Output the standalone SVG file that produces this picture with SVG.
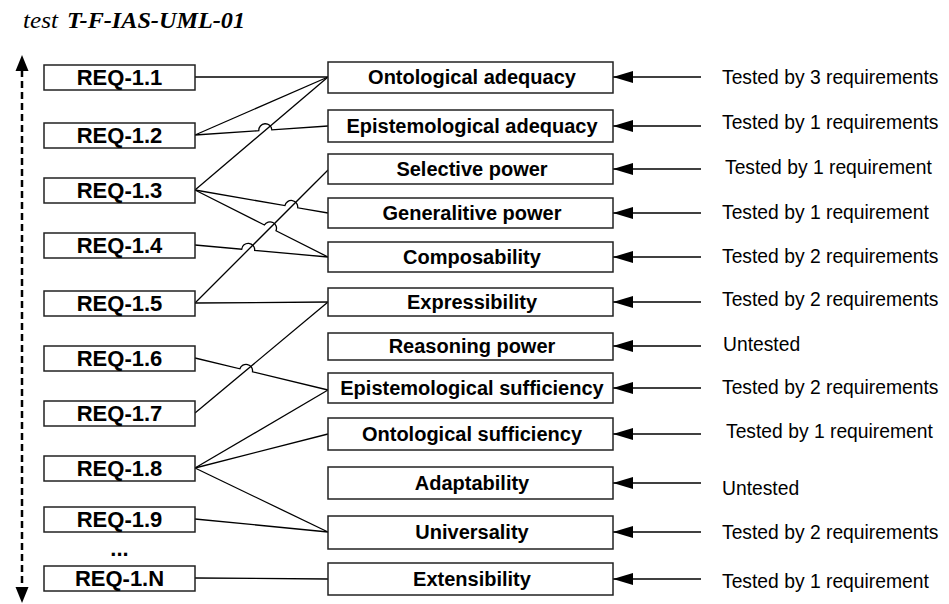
<svg xmlns="http://www.w3.org/2000/svg" width="949" height="604" viewBox="0 0 949 604">
<style>
.bx{fill:#fff;stroke:#222;stroke-width:1.5}
.req{font-family:"Liberation Sans",Arial,sans-serif;font-weight:bold;font-size:22px;text-anchor:middle;fill:#000}
.crit{font-family:"Liberation Sans",Arial,sans-serif;font-weight:bold;font-size:20px;text-anchor:middle;fill:#000}
.lbl{font-family:"Liberation Sans",Arial,sans-serif;font-size:19.3px;fill:#000}
.cn{fill:none;stroke:#000;stroke-width:1.3}
.ar{fill:none;stroke:#000;stroke-width:1.3}
</style>
<defs>
<marker id="ah" markerWidth="20" markerHeight="12" refX="20" refY="6" orient="auto" markerUnits="userSpaceOnUse">
<path d="M0,0 L20,6 L0,12 Z" fill="#000"/>
</marker>
</defs>
<g id="title">
<text x="23" y="28" font-family="'Liberation Serif','Times New Roman',serif" font-style="italic" font-size="23" textLength="35" lengthAdjust="spacingAndGlyphs">test</text>
<text x="67" y="28" font-family="'Liberation Serif','Times New Roman',serif" font-style="italic" font-weight="bold" font-size="23" textLength="178" lengthAdjust="spacingAndGlyphs">T-F-IAS-UML-01</text>
</g>
<g id="axis">
<line x1="22" y1="70" x2="22" y2="588" stroke="#000" stroke-width="2.5" stroke-dasharray="7 4"/>
<polygon points="22,55 15.5,71 28.5,71" fill="#000"/>
<polygon points="22,603 15.5,587 28.5,587" fill="#000"/>
</g>
<g id="connectors">
<path class="cn" d="M195,77 L328,77"/>
<path class="cn" d="M195,135 L328,77"/>
<path class="cn" d="M195,190 L328,77"/>
<path class="cn" d="M195,135 L258.8,130.7 A6.5,6.5 0 0 1 271.8,129.8 L328,126"/>
<path class="cn" d="M195,190 L284.9,205.6 A6.5,6.5 0 0 1 297.7,207.8 L328,213"/>
<path class="cn" d="M195,190 L264.4,225 A6.5,6.5 0 0 1 276,230.8 L328,257"/>
<path class="cn" d="M195,245 L241.7,249.2 A6.5,6.5 0 0 1 254.7,250.4 L328,257"/>
<path class="cn" d="M195,303 L328,170"/>
<path class="cn" d="M195,303 L328,302"/>
<path class="cn" d="M195,358 L239.9,368.8 A6.5,6.5 0 0 1 252.5,371.8 L328,390"/>
<path class="cn" d="M195,413 L328,302"/>
<path class="cn" d="M195,468 L328,390"/>
<path class="cn" d="M195,468 L328,434"/>
<path class="cn" d="M195,468 L328,532"/>
<path class="cn" d="M195,519 L328,532"/>
<path class="cn" d="M195,578 L328,579"/>
<path class="ar" d="M701,77 L613,77" marker-end="url(#ah)"/>
<path class="ar" d="M701,126 L613,126" marker-end="url(#ah)"/>
<path class="ar" d="M701,169 L613,169" marker-end="url(#ah)"/>
<path class="ar" d="M701,213 L613,213" marker-end="url(#ah)"/>
<path class="ar" d="M701,257 L613,257" marker-end="url(#ah)"/>
<path class="ar" d="M701,302 L613,302" marker-end="url(#ah)"/>
<path class="ar" d="M701,346 L613,346" marker-end="url(#ah)"/>
<path class="ar" d="M701,388 L613,388" marker-end="url(#ah)"/>
<path class="ar" d="M701,434 L613,434" marker-end="url(#ah)"/>
<path class="ar" d="M701,483 L613,483" marker-end="url(#ah)"/>
<path class="ar" d="M701,532 L613,532" marker-end="url(#ah)"/>
<path class="ar" d="M701,579 L613,579" marker-end="url(#ah)"/>
</g>
<g id="req-1-1"><rect class="bx" x="44" y="65" width="151" height="25"/><text class="req" x="119.5" y="85">REQ-1.1</text></g>
<g id="req-1-2"><rect class="bx" x="44" y="123" width="151" height="25"/><text class="req" x="119.5" y="143">REQ-1.2</text></g>
<g id="req-1-3"><rect class="bx" x="44" y="178" width="151" height="25"/><text class="req" x="119.5" y="198">REQ-1.3</text></g>
<g id="req-1-4"><rect class="bx" x="44" y="233" width="151" height="25"/><text class="req" x="119.5" y="253">REQ-1.4</text></g>
<g id="req-1-5"><rect class="bx" x="44" y="291" width="151" height="25"/><text class="req" x="119.5" y="311">REQ-1.5</text></g>
<g id="req-1-6"><rect class="bx" x="44" y="346" width="151" height="25"/><text class="req" x="119.5" y="366">REQ-1.6</text></g>
<g id="req-1-7"><rect class="bx" x="44" y="401" width="151" height="25"/><text class="req" x="119.5" y="421">REQ-1.7</text></g>
<g id="req-1-8"><rect class="bx" x="44" y="456" width="151" height="25"/><text class="req" x="119.5" y="476">REQ-1.8</text></g>
<g id="req-1-9"><rect class="bx" x="44" y="507" width="151" height="25"/><text class="req" x="119.5" y="527">REQ-1.9</text></g>
<g id="req-ellipsis"><text class="req" x="119.5" y="556">...</text></g>
<g id="req-1-n"><rect class="bx" x="44" y="566" width="151" height="25"/><text class="req" x="119.5" y="586">REQ-1.N</text></g>
<g id="c-onto-adeq"><rect class="bx" x="328" y="62" width="285" height="31"/><text class="crit" x="472" y="84">Ontological adequacy</text></g>
<g id="c-epi-adeq"><rect class="bx" x="328" y="110" width="285" height="32"/><text class="crit" x="472" y="133">Epistemological adequacy</text></g>
<g id="c-selective"><rect class="bx" x="328" y="154" width="285" height="30"/><text class="crit" x="472" y="176">Selective power</text></g>
<g id="c-generalitive"><rect class="bx" x="328" y="198" width="285" height="30"/><text class="crit" x="472" y="220">Generalitive power</text></g>
<g id="c-compos"><rect class="bx" x="328" y="242" width="285" height="30"/><text class="crit" x="472" y="264">Composability</text></g>
<g id="c-express"><rect class="bx" x="328" y="288" width="285" height="28"/><text class="crit" x="472" y="309">Expressibility</text></g>
<g id="c-reasoning"><rect class="bx" x="328" y="333" width="285" height="27"/><text class="crit" x="472" y="353">Reasoning power</text></g>
<g id="c-epi-suff"><rect class="bx" x="328" y="373" width="285" height="30"/><text class="crit" x="472" y="395">Epistemological sufficiency</text></g>
<g id="c-onto-suff"><rect class="bx" x="328" y="418" width="285" height="32"/><text class="crit" x="472" y="441">Ontological sufficiency</text></g>
<g id="c-adapt"><rect class="bx" x="328" y="467" width="285" height="32"/><text class="crit" x="472" y="490">Adaptability</text></g>
<g id="c-univ"><rect class="bx" x="328" y="516" width="285" height="33"/><text class="crit" x="472" y="539">Universality</text></g>
<g id="c-ext"><rect class="bx" x="328" y="563" width="285" height="32"/><text class="crit" x="472" y="586">Extensibility</text></g>
<g id="labels">
<text class="lbl" x="722" y="84">Tested by 3 requirements</text>
<text class="lbl" x="722" y="129">Tested by 1 requirements</text>
<text class="lbl" x="725" y="174">Tested by 1 requirement</text>
<text class="lbl" x="722" y="219">Tested by 1 requirement</text>
<text class="lbl" x="722" y="263">Tested by 2 requirements</text>
<text class="lbl" x="722" y="306">Tested by 2 requirements</text>
<text class="lbl" x="723" y="351">Untested</text>
<text class="lbl" x="722" y="394">Tested by 2 requirements</text>
<text class="lbl" x="726" y="438">Tested by 1 requirement</text>
<text class="lbl" x="722" y="495">Untested</text>
<text class="lbl" x="722" y="539">Tested by 2 requirements</text>
<text class="lbl" x="722" y="588">Tested by 1 requirement</text>
</g>
</svg>
